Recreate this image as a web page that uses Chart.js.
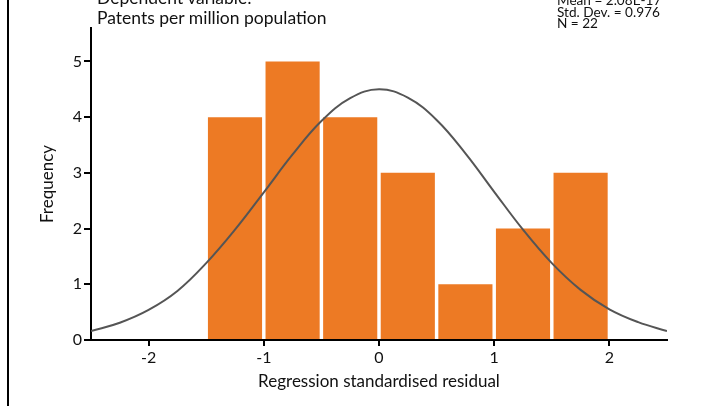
<!DOCTYPE html>
<html>
<head>
<meta charset="utf-8">
<script src="https://cdn.jsdelivr.net/npm/chart.js@4/dist/chart.umd.min.js"></script>
<style>
  html, body { margin: 0; padding: 0; background: #fff; }
  #wrap { position: relative; width: 708px; height: 406px; overflow: hidden; }
  #c { position: absolute; left: 0; top: 0; }
  .note { position: absolute; font-family: Lato, "Open Sans", sans-serif; color: #111; white-space: nowrap; }
  #dep { left: 97px; top: -12px; font-size: 17.5px; line-height: 20px; }
  #stats { left: 557px; top: -5px; font-size: 13.6px; line-height: 11.7px; }
  #border { position: absolute; left: 7px; top: 0; width: 1.5px; height: 406px; background: #000; }
</style>
</head>
<body>
<div id="wrap">
  <canvas id="c" width="708" height="406"></canvas>
  <div id="border"></div>
  <div class="note" id="dep">Dependent variable:<br>Patents per million population</div>
  <div class="note" id="stats">Mean = 2.08E-17<br>Std. Dev. = 0.976<br>N = 22</div>
</div>
<script>
// Histogram bins (centres) and frequencies
const binCentres = [-1.25, -0.75, -0.25, 0.25, 0.75, 1.25, 1.75];
const frequencies = [4, 5, 4, 3, 1, 2, 3];

// Fitted normal curve
const curveX = [-2.5, -2.25, -2.0, -1.75, -1.5, -1.25, -1.0, -0.75, -0.5, -0.25, 0, 0.25, 0.5, 0.75, 1.0, 1.25, 1.5, 1.75, 2.0, 2.25, 2.5];
const curveY = [0.16, 0.31, 0.54, 0.88, 1.38, 1.98, 2.65, 3.33, 3.93, 4.34, 4.50, 4.35, 3.95, 3.35, 2.66, 1.98, 1.38, 0.90, 0.55, 0.32, 0.16];

// Tick labels
const xTicks = [-2, -1, 0, 1, 2];
const yTicks = [0, 1, 2, 3, 4, 5];

const FONT = 'Lato';

new Chart(document.getElementById('c'), {
  type: 'bar',
  data: {
    datasets: [
      {
        type: 'line',
        data: curveX.map((x, i) => ({ x: x, y: curveY[i] })),
        borderColor: '#555555',
        borderWidth: 2,
        pointRadius: 0,
        tension: 0.4,
        fill: false,
        order: 0
      },
      {
        type: 'bar',
        data: binCentres.map((x, i) => ({ x: x, y: frequencies[i] })),
        backgroundColor: '#ED7A24',
        borderWidth: 0,
        barPercentage: 0.94,
        categoryPercentage: 1,
        order: 1
      }
    ]
  },
  options: {
    responsive: false,
    animation: false,
    events: [],
    layout: { padding: { left: 0, right: 41, top: 28, bottom: 0 } },
    plugins: { legend: { display: false }, tooltip: { enabled: false } },
    scales: {
      x: {
        type: 'linear',
        min: -2.5,
        max: 2.5,
        offset: false,
        afterBuildTicks: s => { s.ticks = xTicks.map(v => ({ value: v })); },
        afterFit: s => { s.height = 66; },
        grid: { display: true, drawOnChartArea: false, drawTicks: true, tickLength: 6, color: '#000', lineWidth: 2, offset: false },
        border: { display: true, color: '#000', width: 2 },
        ticks: { color: '#111', font: { family: FONT, size: 16 }, padding: 2, maxRotation: 0,
                 callback: v => String(v) },
        title: { display: true, text: 'Regression standardised residual', color: '#111',
                 font: { family: FONT, size: 17 }, padding: { top: 0, bottom: 14 } }
      },
      y: {
        type: 'linear',
        min: 0,
        max: 5.6,
        afterBuildTicks: s => { s.ticks = yTicks.map(v => ({ value: v })); },
        afterFit: s => { s.width = 91; },
        grid: { display: true, drawOnChartArea: false, drawTicks: true, tickLength: 7, color: '#000', lineWidth: 2 },
        border: { display: true, color: '#000', width: 2 },
        ticks: { color: '#111', font: { family: FONT, size: 16 }, padding: 2,
                 callback: v => String(v) },
        title: { display: true, text: 'Frequency', color: '#111',
                 font: { family: FONT, size: 17 }, padding: { top: 37, bottom: 0 } }
      }
    }
  }
});
</script>
</body>
</html>
